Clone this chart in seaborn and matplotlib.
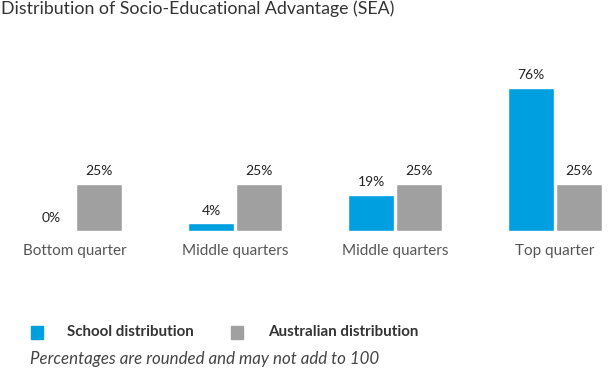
import pandas as pd
import matplotlib.pyplot as plt
import seaborn as sns

categories = ['Bottom quarter', 'Middle quarters', 'Middle quarters ', 'Top quarter']
school = [0, 4, 19, 76]
australia = [25, 25, 25, 25]
series = ['School distribution', 'Australian distribution']
colors = ['#00a0e0', '#a0a0a0']

df = pd.DataFrame({
    'cat': categories * 2,
    'series': [series[0]] * 4 + [series[1]] * 4,
    'value': school + australia,
})

sns.set_style('white')
plt.rcParams['font.family'] = ['Lato', 'DejaVu Sans']

fig = plt.figure(figsize=(6.12, 3.73), dpi=100)
W, H = 612, 373
# axes: baseline at y=231px, 1.88 px per percent
ax = fig.add_axes([0, (H - 231) / H, 1, 191 / H])
sns.barplot(data=df, x='cat', y='value', hue='series', palette=colors,
            width=0.6, gap=0.04, saturation=1, ax=ax, legend=False)
ax.set_xlim(-75 / 160, 537 / 160)
ax.set_ylim(0, 191 / 1.88)

for cont in ax.containers:
    labels = [f'{v:.0f}%' for v in cont.datavalues]
    ax.bar_label(cont, labels=labels, padding=5, fontsize=10, color='#222222')

ax.set_xlabel('')
ax.set_ylabel('')
ax.set_yticks([])
ax.set_xticks(range(4))
ax.set_xticklabels([c.strip() for c in categories], fontsize=11, color='#555555')
ax.tick_params(axis='x', length=0, pad=9)
sns.despine(ax=ax, left=True, bottom=True, top=True, right=True)

fig.text(0.001, 1 - 9 / H, 'Distribution of Socio-Educational Advantage (SEA)',
         fontsize=12.8, color='#333333', va='center', ha='left')

# legend
for i, (name, c) in enumerate(zip(series, colors)):
    x0 = [31, 231][i]
    tx = [67, 268][i]
    fig.patches.append(plt.Rectangle((x0 / W, 1 - 339 / H), 12 / W, 13 / H,
                                     transform=fig.transFigure, color=c))
    fig.text(tx / W, 1 - 332 / H, name, fontsize=10.9, fontweight='bold',
             color='#333333', va='center', ha='left')

fig.text(30 / W, 1 - 359 / H, 'Percentages are rounded and may not add to 100',
         fontsize=12.2, style='italic', color='#444444', va='center', ha='left')

fig.savefig('out.png', dpi=100)
